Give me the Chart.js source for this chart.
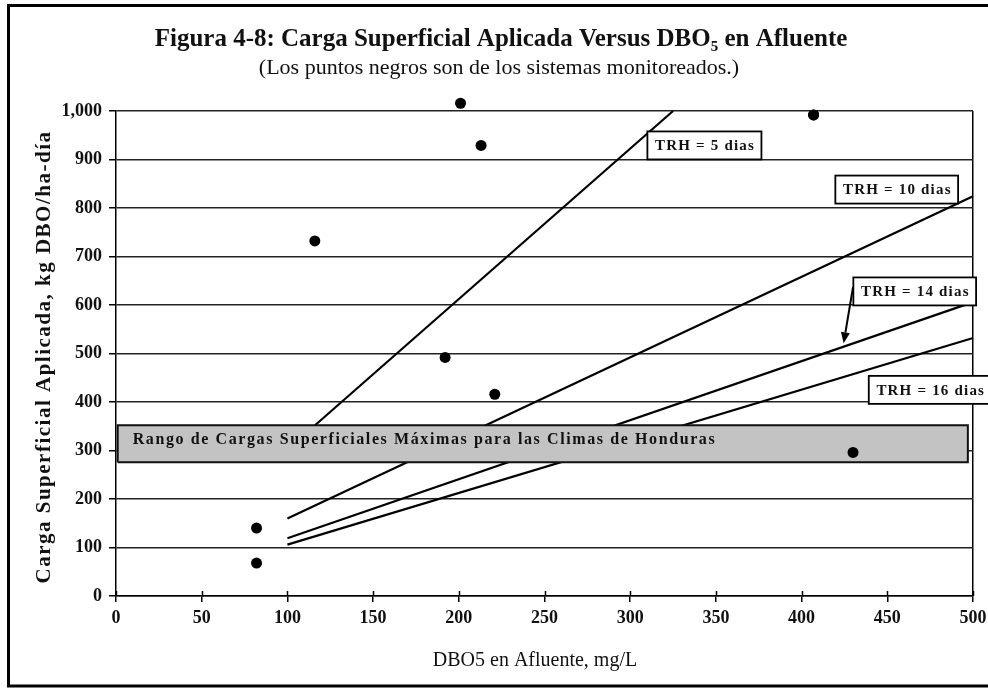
<!DOCTYPE html>
<html>
<head>
<meta charset="utf-8">
<script src="https://cdn.jsdelivr.net/npm/chart.js@4.4.1/dist/chart.umd.min.js"></script>
<style>
  html, body { margin: 0; padding: 0; background: #fff; }
  #wrap { width: 988px; height: 688px; }
</style>
</head>
<body>
<div id="wrap"><canvas id="c" width="988" height="688"></canvas></div>
<script>
// Axis ticks
const xTicks = [0, 50, 100, 150, 200, 250, 300, 350, 400, 450, 500];
const yTicks = [0, 100, 200, 300, 400, 500, 600, 700, 800, 900, 1000];

// Monitored systems: influent BOD5 (mg/L) and applied surface load (kg DBO/ha-día)
const sysDBO  = [82, 82, 116, 192, 201, 213, 221, 407, 430];
const sysLoad = [68, 140, 732, 492, 1016, 929, 416, 992, 296];

// Design lines for each hydraulic retention time (end points)
const trhNames = ['TRH = 5 dias', 'TRH = 10 dias', 'TRH = 14 dias', 'TRH = 16 dias'];
const trh5DBO  = [100, 325];  const trh5Load  = [302, 1000];
const trh10DBO = [100, 500];  const trh10Load = [160, 824];
const trh14DBO = [100, 500];  const trh14Load = [119, 606];
const trh16DBO = [100, 500];  const trh16Load = [106, 532];

// Range of maximum surface loads for Honduras climates
const bandText = 'Rango de Cargas Superficiales Máximas para las Climas de Honduras';
const bandDBO  = [1, 497];
const bandLoad = [276, 352];

// Titles
const titleText    = 'Figura 4-8: Carga Superficial Aplicada Versus DBO\u2085 en Afluente';
const subtitleText = '(Los puntos negros son de los sistemas monitoreados.)';
const xTitleText   = 'DBO5 en Afluente, mg/L';
const yTitleText   = 'Carga Superficial Aplicada, kg DBO/ha-día';

const SERIF = '"Liberation Serif", "Times New Roman", serif';
const INK = '#111';

const toPts = (xs, ys) => xs.map((x, i) => ({ x, y: ys[i] }));
const bandPts = [
  { x: bandDBO[0], y: bandLoad[0] }, { x: bandDBO[0], y: bandLoad[1] },
  { x: bandDBO[1], y: bandLoad[1] }, { x: bandDBO[1], y: bandLoad[0] },
  { x: bandDBO[0], y: bandLoad[0] }
];

// Callout boxes, placed in data units: [text, x, y]
const callouts = [
  [trhNames[0], 343.3, 929],
  [trhNames[1], 455.5, 838],
  [trhNames[2], 466, 628],
  [trhNames[3], 475, 425]
];
// Arrow from the 14-day callout to its line
const arrowFrom = { x: 430, y: 637 };
const arrowTo   = { x: 424.5, y: 521 };

const POINT_R = 5.5;

const lineDS = (xs, ys) => ({
  type: 'line', data: toPts(xs, ys), showLine: true,
  borderColor: '#000', borderWidth: 2.2, pointRadius: 0, fill: false,
  order: 3, clip: false
});

function spacedText(ctx, text, x, y, font, spacing, align) {
  ctx.font = font;
  ctx.letterSpacing = spacing + 'px';
  ctx.textAlign = align || 'center';
  ctx.textBaseline = 'middle';
  ctx.fillText(text, x, y);
}

const overlay = {
  id: 'overlay',
  beforeDraw(chart) {
    const ctx = chart.ctx;
    ctx.save();
    ctx.fillStyle = '#fff';
    ctx.fillRect(0, 0, chart.width, chart.height);
    ctx.restore();
  },
  afterDatasetDraw(chart, args) {
    if (args.index !== 4) return;
    const { ctx, scales: { x, y } } = chart;
    ctx.save();
    ctx.fillStyle = INK;
    const yMid = y.getPixelForValue((bandLoad[0] + bandLoad[1]) / 2) - 4;
    spacedText(ctx, bandText, x.getPixelForValue(bandDBO[0]) + 15, yMid,
      'bold 16px ' + SERIF, 1.6, 'left');
    ctx.restore();
  },
  afterDatasetsDraw(chart) {
    const { ctx, chartArea, scales: { x, y } } = chart;
    ctx.save();
    // points lying above the top of the plot frame
    ctx.fillStyle = '#000';
    chart.getDatasetMeta(5).data.forEach(el => {
      if (el.y < chartArea.top + POINT_R) {
        ctx.beginPath();
        ctx.arc(el.x, el.y, POINT_R, 0, Math.PI * 2);
        ctx.fill();
      }
    });
    // inner halves of the x tick marks
    ctx.strokeStyle = '#000'; ctx.lineWidth = 1.5;
    xTicks.forEach(v => {
      const px = Math.round(x.getPixelForValue(v)) + 0.5;
      ctx.beginPath();
      ctx.moveTo(px, chartArea.bottom);
      ctx.lineTo(px, chartArea.bottom - 5);
      ctx.stroke();
    });
    // arrow
    const x0 = x.getPixelForValue(arrowFrom.x), y0 = y.getPixelForValue(arrowFrom.y);
    const x1 = x.getPixelForValue(arrowTo.x),   y1 = y.getPixelForValue(arrowTo.y);
    const ang = Math.atan2(y1 - y0, x1 - x0);
    const hl = 11, hw = 4.5;
    ctx.strokeStyle = '#000'; ctx.fillStyle = '#000'; ctx.lineWidth = 2;
    ctx.beginPath();
    ctx.moveTo(x0, y0);
    ctx.lineTo(x1 - hl * Math.cos(ang), y1 - hl * Math.sin(ang));
    ctx.stroke();
    ctx.beginPath();
    ctx.moveTo(x1, y1);
    ctx.lineTo(x1 - hl * Math.cos(ang) - hw * Math.sin(ang), y1 - hl * Math.sin(ang) + hw * Math.cos(ang));
    ctx.lineTo(x1 - hl * Math.cos(ang) + hw * Math.sin(ang), y1 - hl * Math.sin(ang) - hw * Math.cos(ang));
    ctx.closePath();
    ctx.fill();
    // callout boxes
    const cFont = 'bold 15px ' + SERIF;
    callouts.forEach(([t, vx, vy]) => {
      const cx = x.getPixelForValue(vx), cy = y.getPixelForValue(vy);
      ctx.font = cFont;
      ctx.letterSpacing = '1.2px';
      const w = ctx.measureText(t).width + 14, h = 28;
      ctx.fillStyle = '#fff';
      ctx.fillRect(cx - w / 2, cy - h / 2, w, h);
      ctx.lineWidth = 1.8; ctx.strokeStyle = '#000';
      ctx.strokeRect(cx - w / 2, cy - h / 2, w, h);
      ctx.fillStyle = INK;
      spacedText(ctx, t, cx + 0.6, cy + 1, cFont, 1.2, 'center');
    });
    ctx.restore();
  },
  afterDraw(chart) {
    const { ctx } = chart;
    ctx.save();
    ctx.fillStyle = INK;
    spacedText(ctx, titleText, 501, 40, 'bold 25px ' + SERIF, 0);
    spacedText(ctx, subtitleText, 499, 68, '22px ' + SERIF, 0);
    spacedText(ctx, xTitleText, 535, 661, '20px ' + SERIF, 0);
    ctx.translate(45, 357);
    ctx.rotate(-Math.PI / 2);
    spacedText(ctx, yTitleText, 0, 0, 'bold 21px ' + SERIF, 1.5);
    ctx.restore();
    // outer frame
    ctx.save();
    ctx.strokeStyle = '#000';
    ctx.lineWidth = 3;
    ctx.strokeRect(8.5, 5.5, 990, 680.5);
    ctx.restore();
  }
};

new Chart(document.getElementById('c'), {
  type: 'scatter',
  data: {
    datasets: [
      lineDS(trh5DBO, trh5Load),
      lineDS(trh10DBO, trh10Load),
      lineDS(trh14DBO, trh14Load),
      lineDS(trh16DBO, trh16Load),
      {
        type: 'line', data: bandPts, showLine: true, fill: 'shape',
        backgroundColor: '#c3c3c3', borderColor: '#111', borderWidth: 2,
        pointRadius: 0, order: 2, tension: 0
      },
      {
        type: 'scatter', data: toPts(sysDBO, sysLoad),
        pointRadius: POINT_R, pointBackgroundColor: '#000', pointBorderColor: '#000',
        pointBorderWidth: 0, order: 1, clip: false
      }
    ]
  },
  options: {
    responsive: false,
    animation: false,
    devicePixelRatio: 1,
    layout: { padding: { left: 0, right: 15, top: 111, bottom: 0 } },
    plugins: {
      legend: { display: false },
      tooltip: { enabled: false },
      title: { display: false },
      subtitle: { display: false }
    },
    scales: {
      x: {
        type: 'linear', min: 0, max: 500,
        afterBuildTicks: s => { s.ticks = xTicks.map(v => ({ value: v })); },
        afterFit: s => { s.height = 92; s.paddingLeft = 0; s.paddingRight = 0; },
        border: { display: true, color: '#000', width: 1.5 },
        grid: {
          drawOnChartArea: true,
          color: c => (c.tick && c.tick.value === 500) ? '#000' : 'rgba(0,0,0,0)',
          lineWidth: 1.5,
          tickColor: '#000', tickLength: 6
        },
        ticks: {
          color: INK, padding: 6,
          font: { family: SERIF, size: 18, weight: 'bold' }
        },
        title: { display: false }
      },
      y: {
        type: 'linear', min: 0, max: 1000,
        afterBuildTicks: s => { s.ticks = yTicks.map(v => ({ value: v })); },
        afterFit: s => { s.width = 116; s.paddingTop = 0; s.paddingBottom = 0; },
        border: { display: true, color: '#000', width: 1.5 },
        grid: { color: '#222', lineWidth: 1.5, tickColor: '#000', tickLength: 7 },
        ticks: {
          color: INK, padding: 7,
          font: { family: SERIF, size: 18, weight: 'bold' },
          callback: v => v.toLocaleString('en-US')
        },
        title: { display: false }
      }
    }
  },
  plugins: [overlay]
});
</script>
</body>
</html>
